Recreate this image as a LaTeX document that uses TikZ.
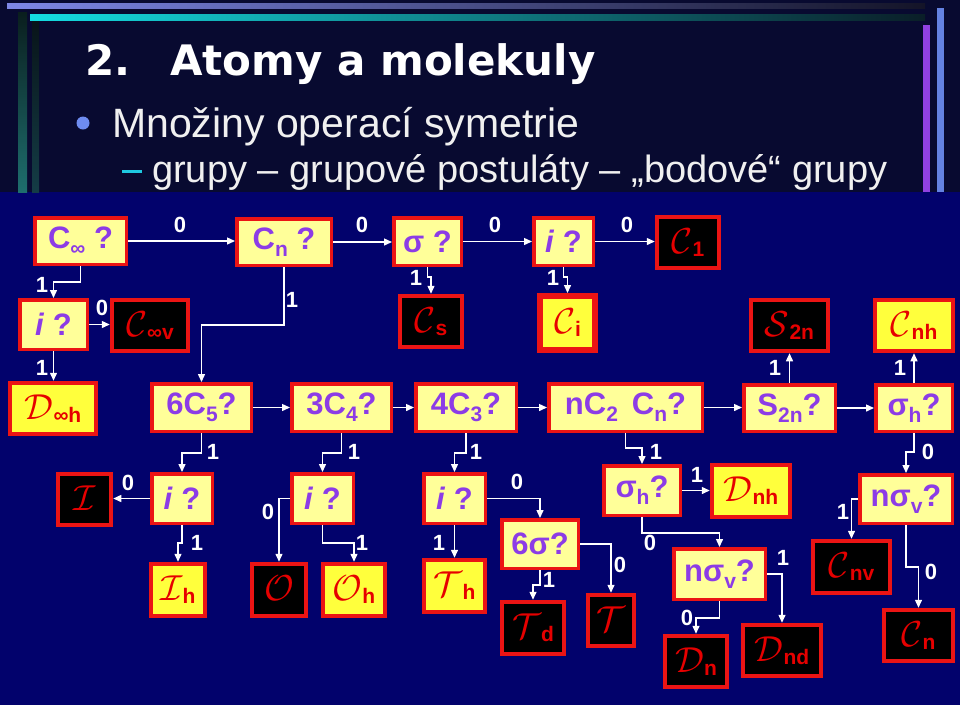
\documentclass[tikz,border=0pt]{standalone}
\usepackage{graphicx}
\usepackage{fontspec}
\setmainfont{Liberation Sans}
\newfontfamily\titlefont{DejaVu Sans}
\usetikzlibrary{arrows.meta}
\definecolor{bgtop}{RGB}{8,10,48}
\definecolor{bgbot}{RGB}{2,2,108}
\definecolor{qyellow}{RGB}{255,255,153}
\definecolor{ryellow}{RGB}{255,255,60}
\definecolor{boxred}{RGB}{235,20,20}
\definecolor{resred}{RGB}{230,0,0}
\definecolor{qpurple}{RGB}{140,60,230}
\definecolor{bulblue}{RGB}{110,140,240}
\definecolor{dashcyan}{RGB}{30,200,225}
\definecolor{barA}{RGB}{125,135,230}
\definecolor{barAend}{RGB}{20,20,40}
\definecolor{barB}{RGB}{20,220,225}
\definecolor{barBend}{RGB}{10,30,40}
\definecolor{barLtop}{RGB}{10,30,30}
\definecolor{barLbot}{RGB}{30,110,110}
\definecolor{barL2top}{RGB}{8,20,25}
\definecolor{barL2bot}{RGB}{20,60,70}
\definecolor{barPurple}{RGB}{145,65,225}
\definecolor{barBlue}{RGB}{100,130,225}
\definecolor{textgray}{RGB}{240,240,240}
\newcommand\qsub[1]{\raisebox{-7pt}{\fontsize{21}{21}\selectfont #1}}
\newcommand\rsubs[1]{\raisebox{-3pt}{\fontsize{21}{21}\selectfont\bfseries #1}}
\newcommand\resl[2]{\scalebox{1.45}{\fontsize{24.88}{25}\selectfont$\mathcal{#1}$}\rsubs{#2}}
\tikzset{
 qbox/.style={draw=boxred, line width=3.5pt, fill=qyellow, text=qpurple, inner sep=0pt, font=\fontsize{31}{31}\selectfont\bfseries},
 rbox/.style={draw=boxred, line width=4pt, fill=black, text=resred, inner sep=0pt},
 ybox/.style={rbox, fill=ryellow},
 sz/.style 2 args={minimum width=#1pt-3.5pt, minimum height=#2pt-3.5pt},
 lab/.style={text=white, inner sep=0pt, font=\fontsize{22}{22}\selectfont\bfseries},
 arr/.style={draw=white, line width=1.4pt, -{Triangle[length=8pt,width=7pt]}},
}
\begin{document}
\begin{tikzpicture}[x=1pt,y=-1pt]
\useasboundingbox (0,0) rectangle (960,705);
% backgrounds
\fill[bgtop] (0,0) rectangle (960,192);
\fill[bgbot] (0,192) rectangle (960,705);
\shade[left color=barA, right color=barAend] (7,3) rectangle (925,8);
\shade[left color=barB, right color=barBend] (30,14) rectangle (925,20);
\shade[top color=barLtop, bottom color=barLbot] (18,12) rectangle (27,192);
\shade[top color=barL2top, bottom color=barL2bot] (32,21) rectangle (39,192);
\fill[barPurple] (923,25) rectangle (930,192);
\fill[barBlue] (937,8) rectangle (944,192);
% title & bullets
\node[anchor=base west, text=white, inner sep=0pt, font=\titlefont\fontsize{42}{42}\selectfont\bfseries] (t1) at (85,75) {2.};
\node[anchor=base west, text=white, inner sep=0pt, font=\titlefont\fontsize{42}{42}\selectfont\bfseries] (t2) at (170,75) {Atomy a molekuly};
\fill[bulblue] (83,123) circle (6.5);
\node[anchor=base west, text=textgray, inner sep=0pt, font=\fontsize{41}{41}\selectfont] (b1) at (112,137) {Množiny operací symetrie};
\fill[dashcyan] (122,169.5) rectangle (142,172.5);
\node[anchor=base west, text=textgray, inner sep=0pt, font=\fontsize{38}{38}\selectfont] (b2) at (152,182) {grupy – grupové postuláty – „bodové“ grupy};
% row 1
\node[qbox, sz={95}{50}] (cinf) at (80.5,241) {C\qsub{∞} ?};
\node[qbox, sz={98}{50}] (cn) at (284,242) {C\qsub{n} ?};
\node[qbox, sz={71}{51}] (sig) at (427.5,241.5) {σ ?};
\node[qbox, sz={63}{51}] (it) at (563.5,241.5) {\textit{i} ?};
\node[rbox, sz={66}{55}] (c1) at (688,242.5) {\resl{C}{1}};
% row 2
\node[qbox, sz={71}{53}] (il) at (53.5,324.5) {\textit{i} ?};
\node[rbox, sz={80}{55}] (cinfv) at (150,325.5) {\resl{C}{∞v}};
\node[rbox, sz={66}{55}] (cs) at (431,321.5) {\resl{C}{s}};
\node[ybox, line width=6pt, minimum width=55pt, minimum height=54pt] (ci) at (567.5,323) {\resl{C}{i}};
\node[rbox, sz={81}{55}] (s2n) at (789.5,325.5) {\resl{S}{2n}};
\node[ybox, sz={82}{55}] (cnh) at (914,325.5) {\resl{C}{nh}};
% row 3
\node[ybox, sz={90}{55}] (dinfh) at (53,408.5) {\resl{D}{∞h}};
\node[qbox, sz={103}{51}] (c5) at (201.5,407.5) {6C\qsub{5}?};
\node[qbox, sz={103}{51}] (c4) at (341.5,407.5) {3C\qsub{4}?};
\node[qbox, sz={104}{51}] (c3) at (466,407.5) {4C\qsub{3}?};
\node[qbox, sz={157}{51}] (c2) at (625.5,407.5) {nC\qsub{2}\hspace{14pt}C\qsub{n}?};
\node[qbox, sz={95}{50}] (s2nq) at (789.5,408) {S\qsub{2n}?};
\node[qbox, sz={80}{50}] (shr) at (914,408) {σ\qsub{h}?};
% row 4
\node[rbox, sz={57}{55}] (I) at (84.5,499.5) {\resl{I}{}};
\node[qbox, sz={64}{53}] (i5) at (182,498.5) {\textit{i} ?};
\node[qbox, sz={65}{53}] (i4) at (322.5,498.5) {\textit{i} ?};
\node[qbox, sz={65}{53}] (i3) at (454.5,498.5) {\textit{i} ?};
\node[qbox, sz={80}{53}] (shm) at (642,490.5) {σ\qsub{h}?};
\node[ybox, sz={82}{56}] (dnh) at (751,491) {\resl{D}{nh}};
\node[qbox, sz={96}{52}] (nsvr) at (906,499) {nσ\qsub{v}?};
% row 5
\node[qbox, sz={80}{52}] (s6) at (540,544) {6σ?};
\node[qbox, sz={95}{54}] (nsvm) at (719.5,574) {nσ\qsub{v}?};
\node[rbox, sz={81}{56}] (cnv) at (851.5,567) {\resl{C}{nv}};
\node[ybox, sz={58}{56}] (ih) at (178,590) {\resl{I}{h}};
\node[rbox, sz={58}{56}] (O) at (279,590) {\resl{O}{}};
\node[ybox, sz={66}{56}] (oh) at (354,590) {\resl{O}{h}};
\node[ybox, sz={65}{56}] (th) at (454.5,586) {\resl{T}{h}};
\node[rbox, sz={66}{56}] (td) at (533,628) {\resl{T}{d}};
\node[rbox, sz={50}{55}] (T) at (611,620.5) {\resl{T}{}};
\node[rbox, sz={66}{55}] (dn) at (696,661.5) {\resl{D}{n}};
\node[rbox, sz={82}{55}] (dnd) at (782,650.5) {\resl{D}{nd}};
\node[rbox, sz={73}{55}] (cn0) at (918.5,635.5) {\resl{C}{n}};
% connectors
\draw[arr] (cinf.east) -- (cinf.east -| cn.west);
\draw[arr] (cinf.south) -- ++(0,16) -| (il.north);
\draw[arr] (il.east) -- (il.east -| cinfv.west);
\draw[arr] (il.south) -- (il.south |- dinfh.north);
\draw[arr] (cn.east) -- (cn.east -| sig.west);
\draw[arr] (cn.south) -- ++(0,58) -| (c5.north);
\draw[arr] (sig.east) -- (sig.east -| it.west);
\draw[arr] (sig.south) -- ++(0,10) -| (cs.north);
\draw[arr] (it.south) -- ++(0,10) -| (ci.north);
\draw[arr] (it.east) -- (it.east -| c1.west);
\draw[arr] (c5.east) -- (c5.east -| c4.west);
\draw[arr] (c4.east) -- (c4.east -| c3.west);
\draw[arr] (c3.east) -- (c3.east -| c2.west);
\draw[arr] (c2.east) -- (c2.east -| s2nq.west);
\draw[arr] (s2nq.east) -- (s2nq.east -| shr.west);
\draw[arr] (s2nq.north) -- (s2nq.north |- s2n.south);
\draw[arr] (shr.north) -- (shr.north |- cnh.south);
\draw[arr] (c5.south) -- ++(0,20) -| (i5.north);
\draw[arr] (i5.west) -- (i5.west -| I.east);
\draw[arr] (i5.south) -- ++(0,18) -| (ih.north);
\draw[arr] (c4.south) -- ++(0,20) -| (i4.north);
\draw[arr] (i4.west) -| (O.north);
\draw[arr] (i4.south) -- ++(0,18) -| (oh.north);
\draw[arr] (c3.south) -- ++(0,20) -| (i3.north);
\draw[arr] (i3.south) -- (i3.south |- th.north);
\draw[arr] (i3.east) -| (s6.north);
\draw[arr] (s6.south) -- ++(0,15) -| (td.north);
\draw[arr] (s6.east) -| (T.north);
\draw[arr] (c2.south) -- ++(0,15) -| (shm.north);
\draw[arr] (shm.east) -- (shm.east -| dnh.west);
\draw[arr] (shm.south) -- ++(0,16) -| (nsvm.north);
\draw[arr] (nsvm.south) -- ++(0,17) -| (dn.north);
\draw[arr] (nsvm.east) -| (dnd.north);
\draw[arr] (shr.south) -- ++(0,19) -| (nsvr.north);
\draw[arr] (nsvr.west) -| (cnv.north);
\draw[arr] (nsvr.south) -- ++(0,42) -| (cn0.north);
% labels
\node[lab] (l1) at (180,225) {0};
\node[lab] (l2) at (42,285) {1};
\node[lab] (l3) at (102,308) {0};
\node[lab] (l4) at (42,368) {1};
\node[lab] (l5) at (362,225) {0};
\node[lab] (l6) at (292,300) {1};
\node[lab] (l7) at (495,225) {0};
\node[lab] (l8) at (416,278) {1};
\node[lab] (l9) at (553,278) {1};
\node[lab] (l10) at (627,225) {0};
\node[lab] (l16) at (775,368) {1};
\node[lab] (l17) at (900,368) {1};
\node[lab] (l18) at (213,452) {1};
\node[lab] (l19) at (128,483) {0};
\node[lab] (l20) at (197,543) {1};
\node[lab] (l21) at (354,452) {1};
\node[lab] (l22) at (268,512) {0};
\node[lab] (l23) at (362,543) {1};
\node[lab] (l24) at (476,452) {1};
\node[lab] (l25) at (439,543) {1};
\node[lab] (l26) at (517,482) {0};
\node[lab] (l27) at (549,580) {1};
\node[lab] (l28) at (620,565) {0};
\node[lab] (l29) at (656,452) {1};
\node[lab] (l30) at (697,475) {1};
\node[lab] (l31) at (650,543) {0};
\node[lab] (l32) at (687,618) {0};
\node[lab] (l33) at (783,558) {1};
\node[lab] (l34) at (928,452) {0};
\node[lab] (l35) at (843,512) {1};
\node[lab] (l36) at (931,572) {0};
\end{tikzpicture}
\end{document}
